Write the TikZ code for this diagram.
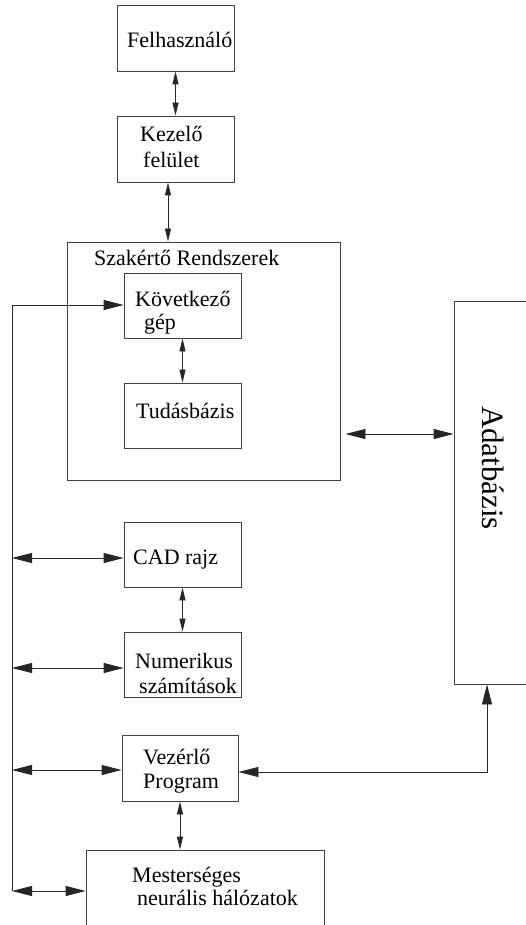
\documentclass[tikz,border=0pt]{standalone}
\usepackage{fontspec}
\setmainfont{Liberation Serif}
\usetikzlibrary{arrows.meta}
\tikzset{
  box/.style={draw=black!75, line width=0.9pt, rectangle, inner sep=0pt},
  conn/.style={draw=black!85, line width=0.9pt},
  big/.style={conn, {Triangle[length=20pt,width=10pt]}-{Triangle[length=20pt,width=10pt]}},
  bigend/.style={conn, -{Triangle[length=20pt,width=10pt]}},
  small/.style={conn, {Triangle[length=13pt,width=6pt]}-{Triangle[length=13pt,width=6pt]}},
  lbl/.style={anchor=base west, inner sep=0pt, align=left, font=\fontsize{22}{24}\selectfont}
}
\begin{document}
\begin{tikzpicture}[x=1pt,y=-1pt]
\clip (0,0) rectangle (526,925);
\fill[white] (0,0) rectangle (526,925);
% boxes
\node[box, minimum width=117pt, minimum height=66pt] (felh) at (175.5,38) {};
\node[box, minimum width=117pt, minimum height=66pt] (kez) at (175.5,149) {};
\node[box, minimum width=273pt, minimum height=238pt] (szak) at (203.5,361) {};
\node[box, minimum width=117pt, minimum height=65pt] (kov) at (182.5,305.5) {};
\node[box, minimum width=117pt, minimum height=65pt] (tud) at (182.5,415.5) {};
\node[box, minimum width=120pt, minimum height=383pt] (adat) at (514,492.5) {};
\node[box, minimum width=117pt, minimum height=65pt] (cad) at (182.5,554.5) {};
\node[box, minimum width=117pt, minimum height=65pt] (num) at (182.5,664.5) {};
\node[box, minimum width=116pt, minimum height=66pt] (vez) at (180,768) {};
\node[box, minimum width=238pt, minimum height=100pt] (mest) at (205,900) {};
% labels (multi-line labels are anchored at the baseline of their last line)
\node[lbl] (tfelh) at (127,48) {Felhasználó};
\node[lbl] (tkez) at (140,168) {Kezelő\\[2pt]\hspace{3pt}felület};
\node[lbl] (tszak) at (94,265) {Szakértő Rendszerek};
\node[lbl] (tkov) at (135,329) {Következő\\[-1pt]\hspace{9pt}gép};
\node[lbl] (ttud) at (136,418) {Tudásbázis};
\node[lbl] (tcad) at (133,564) {CAD rajz};
\node[lbl] (tnum) at (135,693) {Numerikus\\[1pt]\hspace{4pt}számítások};
\node[lbl] (tvez) at (143,788) {Vezérlő\\Program};
\node[lbl] (tmest) at (132,905) {Mesterséges\\[-1pt]\hspace{5pt}neurális hálózatok};
\node[rotate=-90, anchor=base, inner sep=0pt, font=\fontsize{31}{31}\selectfont] (tadat) at (482,468) {Adatbázis};
% left bus coordinates
\coordinate (L1) at (12,305);
\coordinate (L2) at (12,558);
\coordinate (L3) at (12,668);
\coordinate (L4) at (12,770);
\coordinate (L5) at (12,891);
% connectors
\draw[small] (felh.south) -- (kez.north);
\draw[small] ([xshift=-7.5pt]kez.south) -- ([xshift=-7.5pt]kez.south |- szak.north);
\draw[small] (kov.south) -- (tud.north);
\draw[small] (cad.south) -- (num.north);
\draw[small] (vez.south) -- (vez.south |- mest.north);
\draw[big] ([xshift=5pt]szak.east |- 0,434) -- (adat.west |- 0,434);
\draw[conn] (L5) -- (L1);
\draw[bigend] (L1) -- (L1 -| kov.west);
\draw[big] (L2) -- (L2 -| cad.west);
\draw[big] (L3) -- (L3 -| num.west);
\draw[big] (L4) -- (L4 -| vez.west);
\draw[big] (L5) -- (L5 -| mest.west);
\draw[big] (vez.east |- 0,772) -| (adat.south -| 487,0);
\end{tikzpicture}
\end{document}
